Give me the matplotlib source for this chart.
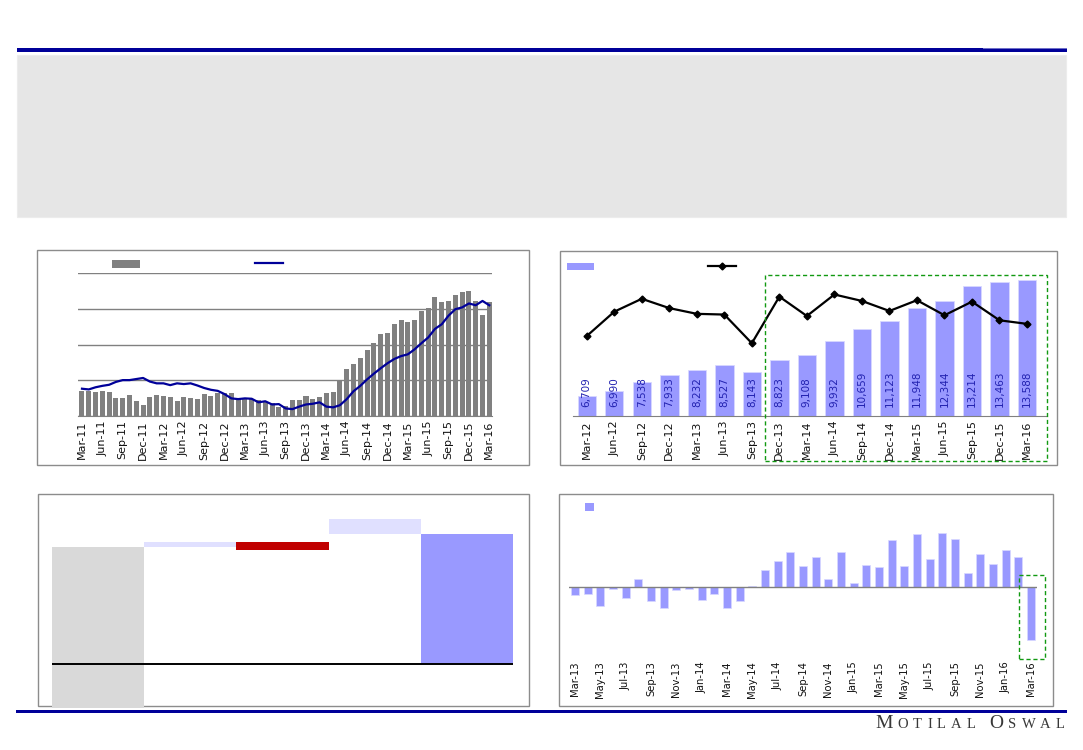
import matplotlib
matplotlib.use("Agg")
import matplotlib.pyplot as plt
from matplotlib.patches import Rectangle
from matplotlib.lines import Line2D
import numpy as np

plt.rcParams['font.family'] = ['DejaVu Sans']

# ---------------- data ----------------
# Panel 1: monthly bars (Mar-11 .. Mar-16) and a trailing line
p1_months = ["Mar-11", "Apr-11", "May-11", "Jun-11", "Jul-11", "Aug-11", "Sep-11", "Oct-11", "Nov-11", "Dec-11",
             "Jan-12", "Feb-12", "Mar-12", "Apr-12", "May-12", "Jun-12", "Jul-12", "Aug-12", "Sep-12", "Oct-12",
             "Nov-12", "Dec-12", "Jan-13", "Feb-13", "Mar-13", "Apr-13", "May-13", "Jun-13", "Jul-13", "Aug-13",
             "Sep-13", "Oct-13", "Nov-13", "Dec-13", "Jan-14", "Feb-14", "Mar-14", "Apr-14", "May-14", "Jun-14",
             "Jul-14", "Aug-14", "Sep-14", "Oct-14", "Nov-14", "Dec-14", "Jan-15", "Feb-15", "Mar-15", "Apr-15",
             "May-15", "Jun-15", "Jul-15", "Aug-15", "Sep-15", "Oct-15", "Nov-15", "Dec-15", "Jan-16", "Feb-16",
             "Mar-16"]
p1_bars = [7.1, 7.2, 6.8, 7.1, 6.8, 5.1, 5.1, 5.9, 4.2, 3.1,
           5.4, 5.9, 5.7, 5.4, 4.2, 5.4, 5.1, 4.7, 6.2, 5.7,
           6.6, 6.5, 6.4, 4.8, 4.7, 4.7, 4.5, 3.9, 3.8, 2.6,
           3.0, 4.5, 4.5, 5.7, 4.7, 5.3, 6.4, 6.8, 10.0, 13.3,
           14.7, 16.4, 18.4, 20.5, 22.9, 23.3, 25.9, 26.9, 26.4, 26.9,
           29.5, 30.2, 33.2, 32.0, 32.3, 33.8, 34.7, 35.0, 32.2, 28.3,
           32.0]
p1_line = [7.7, 7.5, 8.1, 8.5, 8.8, 9.6, 10.1, 10.1, 10.4, 10.7,
           9.7, 9.2, 9.2, 8.7, 9.2, 9.0, 9.2, 8.6, 7.9, 7.4,
           7.1, 6.2, 5.0, 4.8, 5.0, 4.9, 3.9, 4.2, 3.3, 3.4,
           2.2, 2.0, 2.7, 3.3, 3.5, 3.9, 2.7, 2.5, 3.1, 4.8,
           7.0, 8.5, 10.3, 11.9, 13.4, 14.8, 16.0, 16.8, 17.3, 18.7,
           20.4, 22.0, 24.4, 25.7, 28.1, 29.9, 30.4, 31.5, 31.0, 32.2,
           31.0]

# Panel 2: quarterly bars with labels and a line on a secondary axis
p2_quarters = ["Mar-12", "Jun-12", "Sep-12", "Dec-12", "Mar-13", "Jun-13", "Sep-13", "Dec-13", "Mar-14",
               "Jun-14", "Sep-14", "Dec-14", "Mar-15", "Jun-15", "Sep-15", "Dec-15", "Mar-16"]
p2_bars = [6709, 6990, 7538, 7933, 8232, 8527, 8143, 8823, 9108,
           9932, 10659, 11123, 11948, 12344, 13214, 13463, 13588]
p2_line = [11.2, 14.6, 16.4, 15.1, 14.3, 14.2, 10.2, 16.7, 14.0,
           17.0, 16.1, 14.7, 16.2, 14.1, 16.0, 13.4, 12.9]

# Panel 3: waterfall (bar bottoms / tops)
p3_bottom = [None, 89.6, 87.7, 100.0, 0.0]   # None -> from axis floor
p3_top = [89.6, 93.4, 93.4, 111.3, 100.0]
p3_colors = ["#d9d9d9", "#e0e0ff", "#c00000", "#e0e0ff", "#9999ff"]

# Panel 4: monthly change (Mar-13 .. Mar-16)
p4_months = ["Mar-13", "Apr-13", "May-13", "Jun-13", "Jul-13", "Aug-13", "Sep-13", "Oct-13", "Nov-13", "Dec-13",
             "Jan-14", "Feb-14", "Mar-14", "Apr-14", "May-14", "Jun-14", "Jul-14", "Aug-14", "Sep-14", "Oct-14",
             "Nov-14", "Dec-14", "Jan-15", "Feb-15", "Mar-15", "Apr-15", "May-15", "Jun-15", "Jul-15", "Aug-15",
             "Sep-15", "Oct-15", "Nov-15", "Dec-15", "Jan-16", "Feb-16", "Mar-16"]
p4_values = [-2.3, -2.0, -5.5, -0.4, -3.3, 2.6, -4.2, -6.1, -0.7, -0.4,
             -3.9, -2.0, -6.1, -4.2, 0.4, 5.1, 7.9, 10.6, 6.3, 9.1,
             2.6, 10.6, 1.3, 6.6, 6.0, 14.1, 6.3, 16.0, 8.5, 16.3,
             14.4, 4.4, 10.0, 7.0, 11.3, 9.1, -15.7]

# ---------------- layout helpers ----------------
W, H = 1083, 750
fig = plt.figure(figsize=(W / 100, H / 100), dpi=100)


def axrect(x0, y0, x1, y1):
    return [x0 / W, 1 - y1 / H, (x1 - x0) / W, (y1 - y0) / H]


def frect(x0, y0, x1, y1, **kw):
    r = Rectangle((x0 / W, 1 - y1 / H), (x1 - x0) / W, (y1 - y0) / H,
                  transform=fig.transFigure, **kw)
    fig.add_artist(r)
    return r


def fline(x0, x1, y, **kw):
    l = Line2D([x0 / W, x1 / W], [1 - y / H, 1 - y / H], transform=fig.transFigure, **kw)
    fig.add_artist(l)
    return l


NAVY = "#000099"
BORDER = "#8c8c8c"
LAV = "#9999ff"
GREEN = "#119911"

# header
frect(17, 48, 1067, 51.7, facecolor=NAVY, edgecolor="none")
frect(983, 47.6, 1067, 49.0, facecolor="#6f6fc8", edgecolor="none")
frect(17, 55, 1066, 217, facecolor="#e6e6e6", edgecolor="#ececec", lw=0.8)
# footer
frect(16, 709.7, 1067, 712.7, facecolor=NAVY, edgecolor="none")

# panel borders
frect(36.7, 249.7, 529, 464.7, facecolor="none", edgecolor=BORDER, lw=1.0, zorder=0)
frect(560, 251.3, 1056.5, 465, facecolor="none", edgecolor=BORDER, lw=1.0, zorder=0)
frect(37.7, 494.3, 529, 706, facecolor="none", edgecolor=BORDER, lw=1.0, zorder=0)
frect(559, 494.3, 1052.7, 706, facecolor="none", edgecolor=BORDER, lw=1.0, zorder=0)

# ---------------- panel 1 ----------------
ax1 = fig.add_axes(axrect(77.7, 273, 492, 416.3))
x1 = np.arange(len(p1_months))
ax1.bar(x1, p1_bars, width=0.74, color="#808080", edgecolor="none", zorder=2)
ax1.plot(x1, p1_line, color=NAVY, lw=1.6, zorder=3)
ax1.set_xlim(-0.63, len(p1_months) - 1 + 0.4)
ax1.set_ylim(0, 40)
ax1.set_yticks([0, 10, 20, 30, 40])
ax1.yaxis.grid(True, color="#808080", lw=1.0, zorder=0)
ax1.set_axisbelow(True)
ax1.tick_params(axis="y", length=0, labelleft=False)
ax1.set_xticks(x1[::3])
ax1.set_xticklabels(p1_months[::3], rotation=90, fontsize=8, color="#111111")
ax1.tick_params(axis="x", length=0, pad=3)
for s in ["top", "left", "right"]:
    ax1.spines[s].set_visible(False)
ax1.spines["bottom"].set_color("#808080")
ax1.patch.set_alpha(0)
# legend keys
frect(112, 260.3, 140, 268, facecolor="#808080", edgecolor="none")
fline(255, 283, 262.7, color=NAVY, lw=1.6)

# ---------------- panel 2 ----------------
ax2 = fig.add_axes(axrect(572.7, 273, 1046, 416.3))
x2 = np.arange(len(p2_quarters))
ax2.bar(x2, p2_bars, width=0.67, color=LAV, edgecolor="#d8d8ff", lw=0.6, zorder=2)
ax2.set_xlim(-0.51, len(p2_quarters) - 1 + 0.69)
ax2.set_ylim(5480, 14000)
y0 = ax2.get_ylim()[0]
for xi, v in zip(x2, p2_bars):
    ax2.annotate(f"{v:,}", xy=(xi, y0), xytext=(0, 6.5), textcoords="offset points",
                 rotation=90, ha="center", va="bottom", fontsize=7.5, color="#2222b0", zorder=4)
ax2.set_xticks(x2)
ax2.set_xticklabels(p2_quarters, rotation=90, fontsize=8, color="#111111")
ax2.tick_params(axis="x", length=0, pad=3)
ax2.tick_params(axis="y", length=0, labelleft=False)
for s in ["top", "left", "right"]:
    ax2.spines[s].set_visible(False)
ax2.spines["bottom"].set_color("#808080")
ax2.patch.set_alpha(0)
ax2b = ax2.twinx()
ax2b.plot(x2, p2_line, color="black", lw=1.6, marker="D", markersize=3.5, zorder=5)
ax2b.set_ylim(0, 20)
ax2b.axis("off")
# legend keys
frect(567, 263, 594, 270, facecolor=LAV, edgecolor="none")
fline(708, 736, 266, color="black", lw=1.6)
fig.add_artist(Line2D([722 / W], [1 - 266 / H], marker="D", markersize=3.5, color="black",
                      transform=fig.transFigure))
# highlight box
frect(765, 275, 1047, 461, facecolor="none", edgecolor=GREEN, lw=1.0, ls=(0, (3, 2)), zorder=6)

# ---------------- panel 3 ----------------
ax3 = fig.add_axes(axrect(52, 500, 513, 708))
ax3.set_xlim(-0.5, 4.5)
ax3.set_ylim(-33.8, 125.9)
floor = ax3.get_ylim()[0]
for i, (b, t, c) in enumerate(zip(p3_bottom, p3_top, p3_colors)):
    bb = floor if b is None else b
    ax3.bar(i, t - bb, bottom=bb, width=1.0, color=c, edgecolor="none", zorder=2)
ax3.axhline(0, color="black", lw=1.4, zorder=3)
ax3.axis("off")

# ---------------- panel 4 ----------------
ax4 = fig.add_axes(axrect(569, 500, 1037, 657))
x4 = np.arange(len(p4_months))
ax4.bar(x4, p4_values, width=0.63, color=LAV, edgecolor="#d8d8ff", lw=0.5, zorder=2)
ax4.axhline(0, color="#808080", lw=1.0, zorder=3)
ax4.set_xlim(-0.47, len(p4_months) - 1 + 0.47)
ax4.set_ylim(-20.9, 26.2)
ax4.set_xticks(x4[::2])
ax4.set_xticklabels(p4_months[::2], rotation=90, fontsize=7.2, color="#111111")
ax4.tick_params(axis="x", length=0, pad=3)
ax4.tick_params(axis="y", length=0, labelleft=False)
for s in ax4.spines.values():
    s.set_visible(False)
ax4.patch.set_alpha(0)
frect(585, 503, 594, 511, facecolor=LAV, edgecolor="none")
frect(1019, 575, 1045, 659, facecolor="none", edgecolor=GREEN, lw=1.0, ls=(0, (3, 2)), zorder=6)

# ---------------- logo text ----------------
renderer = fig.canvas.get_renderer()
logo = [("M", 14), ("O", 10.5), ("T", 10.5), ("I", 10.5), ("L", 10.5), ("A", 10.5), ("L", 10.5),
        (" ", 14), ("O", 14), ("S", 10.5), ("W", 10.5), ("A", 10.5), ("L", 10.5)]
xpos = 875.0
base_y = 1 - 728 / H
for ch, sz in logo:
    t = fig.text(xpos / W, base_y, ch, fontsize=sz, family="Liberation Serif", color="#383838",
                 ha="left", va="baseline")
    wpx = t.get_window_extent(renderer).width
    if ch == " ":
        wpx = 4
    xpos += wpx + 5.0

fig.savefig("out.png", dpi=100)
